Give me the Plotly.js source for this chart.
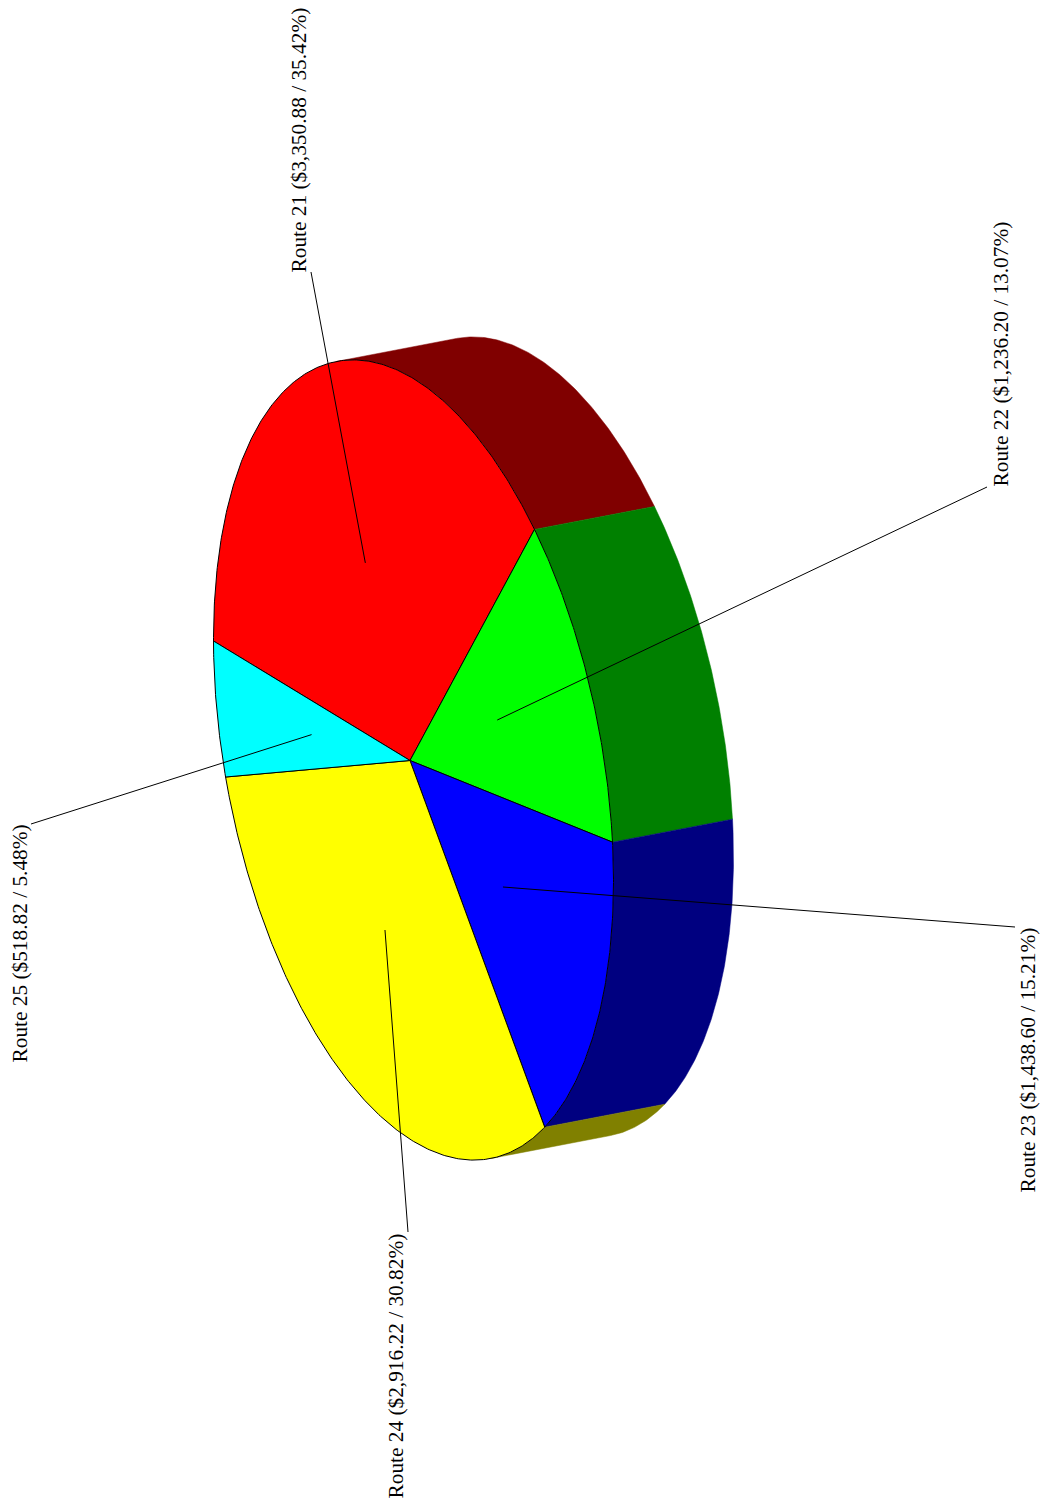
<!DOCTYPE html>
<html>
<head>
<meta charset="utf-8">
<script src="https://cdn.plot.ly/plotly-3.0.1.min.js"></script>
<style>html,body{margin:0;padding:0;background:#fff}#chart{width:1044px;height:1506px}</style>
</head>
<body>
<div id="chart"></div>
<script>
const routes = ["Route 21", "Route 22", "Route 23", "Route 24", "Route 25"];
const amounts = [3350.88, 1236.20, 1438.60, 2916.22, 518.82];
const shares = [35.42, 13.07, 15.21, 30.82, 5.48];
const topColors = ["#ff0000", "#00ff00", "#0000ff", "#ffff00", "#00ffff"];
const sideColors = ["#800000", "#008000", "#000080", "#808000", "#008080"];
const labelX = [298.5, 1000.5, 1027.5, 395.5, 19.5];
const labelY = [140, 354, 1060, 1366, 944];
const leaderEndX = [311, 987, 1015, 408, 31];
const leaderEndY = [272, 487, 927, 1232, 824];

// projection of the tilted, rotated disc onto the page
const apex = [410, 760.5];
const center = [413.5, 760];
const axisA = [-200, -119];
const axisB = [-1, -382];
const depth = [120, -23];
const STEP = 0.5;

const px = (deg, off = [0, 0]) => {
  const t = deg * Math.PI / 180;
  return [
    center[0] + off[0] + axisA[0] * Math.cos(t) + axisB[0] * Math.sin(t),
    center[1] + off[1] + axisA[1] * Math.cos(t) + axisB[1] * Math.sin(t)
  ];
};
const anchor = deg => {
  const t = deg * Math.PI / 180;
  return [
    apex[0] + 0.5 * (axisA[0] * Math.cos(t) + axisB[0] * Math.sin(t)),
    apex[1] + 0.5 * (axisA[1] * Math.cos(t) + axisB[1] * Math.sin(t))
  ];
};
const arc = (a, b, off) => {
  const pts = [];
  const n = Math.max(1, Math.ceil(Math.abs(b - a) / STEP));
  for (let i = 0; i <= n; i++) pts.push(px(a + (b - a) * i / n, off));
  return pts;
};
const cross = (u, v) => u[0] * v[1] - u[1] * v[0];

const total = amounts.reduce((s, v) => s + v, 0);
let acc = 0;
const slices = amounts.map(v => {
  const a = acc / total * 360;
  acc += v;
  return [a, acc / total * 360];
});

// visible half of the rim lies between the two tangent angles
const tan0 = Math.atan2(cross(axisB, depth), cross(axisA, depth)) * 180 / Math.PI;
const tan1 = tan0 + 180;

const traces = [];
const addPoly = (pts, fill, lineW, name) => {
  traces.push({
    type: "scatter", mode: "lines", name, hoverinfo: "skip", showlegend: false,
    x: pts.map(p => p[0]), y: pts.map(p => p[1]),
    fill: "toself", fillcolor: fill,
    line: lineW ? { color: "#000", width: lineW } : { color: fill, width: 0.5 }
  });
};

slices.forEach((s, i) => {
  const a = Math.max(s[0], tan0), b = Math.min(s[1], tan1);
  if (b > a) {
    const front = arc(a, b);
    const back = arc(a, b, depth).reverse();
    addPoly(front.concat(back, [front[0]]), sideColors[i], 0, routes[i] + " side");
  }
});
slices.forEach((s, i) => {
  const pts = [apex].concat(arc(s[0], s[1]), [apex]);
  addPoly(pts, topColors[i], 1, routes[i]);
});
slices.forEach((s, i) => {
  const inner = anchor((s[0] + s[1]) / 2);
  traces.push({
    type: "scatter", mode: "lines", hoverinfo: "skip", showlegend: false,
    x: [inner[0], leaderEndX[i]], y: [inner[1], leaderEndY[i]],
    line: { color: "#000", width: 1 }
  });
});

const money = v => "$" + v.toLocaleString("en-US", { minimumFractionDigits: 2, maximumFractionDigits: 2 });
const annotations = routes.map((r, i) => ({
  xref: "x", yref: "y", x: labelX[i], y: labelY[i],
  text: r + " (" + money(amounts[i]) + " / " + shares[i].toFixed(2) + "%)",
  showarrow: false, textangle: -90, xanchor: "center", yanchor: "middle",
  font: { family: "Liberation Serif", size: 21.33, color: "#000" }
}));

const hidden = { visible: false, fixedrange: true, showgrid: false, zeroline: false };
Plotly.newPlot("chart", traces, {
  width: 1044, height: 1506,
  margin: { l: 0, r: 0, t: 0, b: 0 },
  paper_bgcolor: "#fff", plot_bgcolor: "#fff",
  showlegend: false,
  xaxis: Object.assign({ range: [0, 1044] }, hidden),
  yaxis: Object.assign({ range: [1506, 0] }, hidden),
  annotations
}, { displayModeBar: false, staticPlot: true });
</script>
</body>
</html>
